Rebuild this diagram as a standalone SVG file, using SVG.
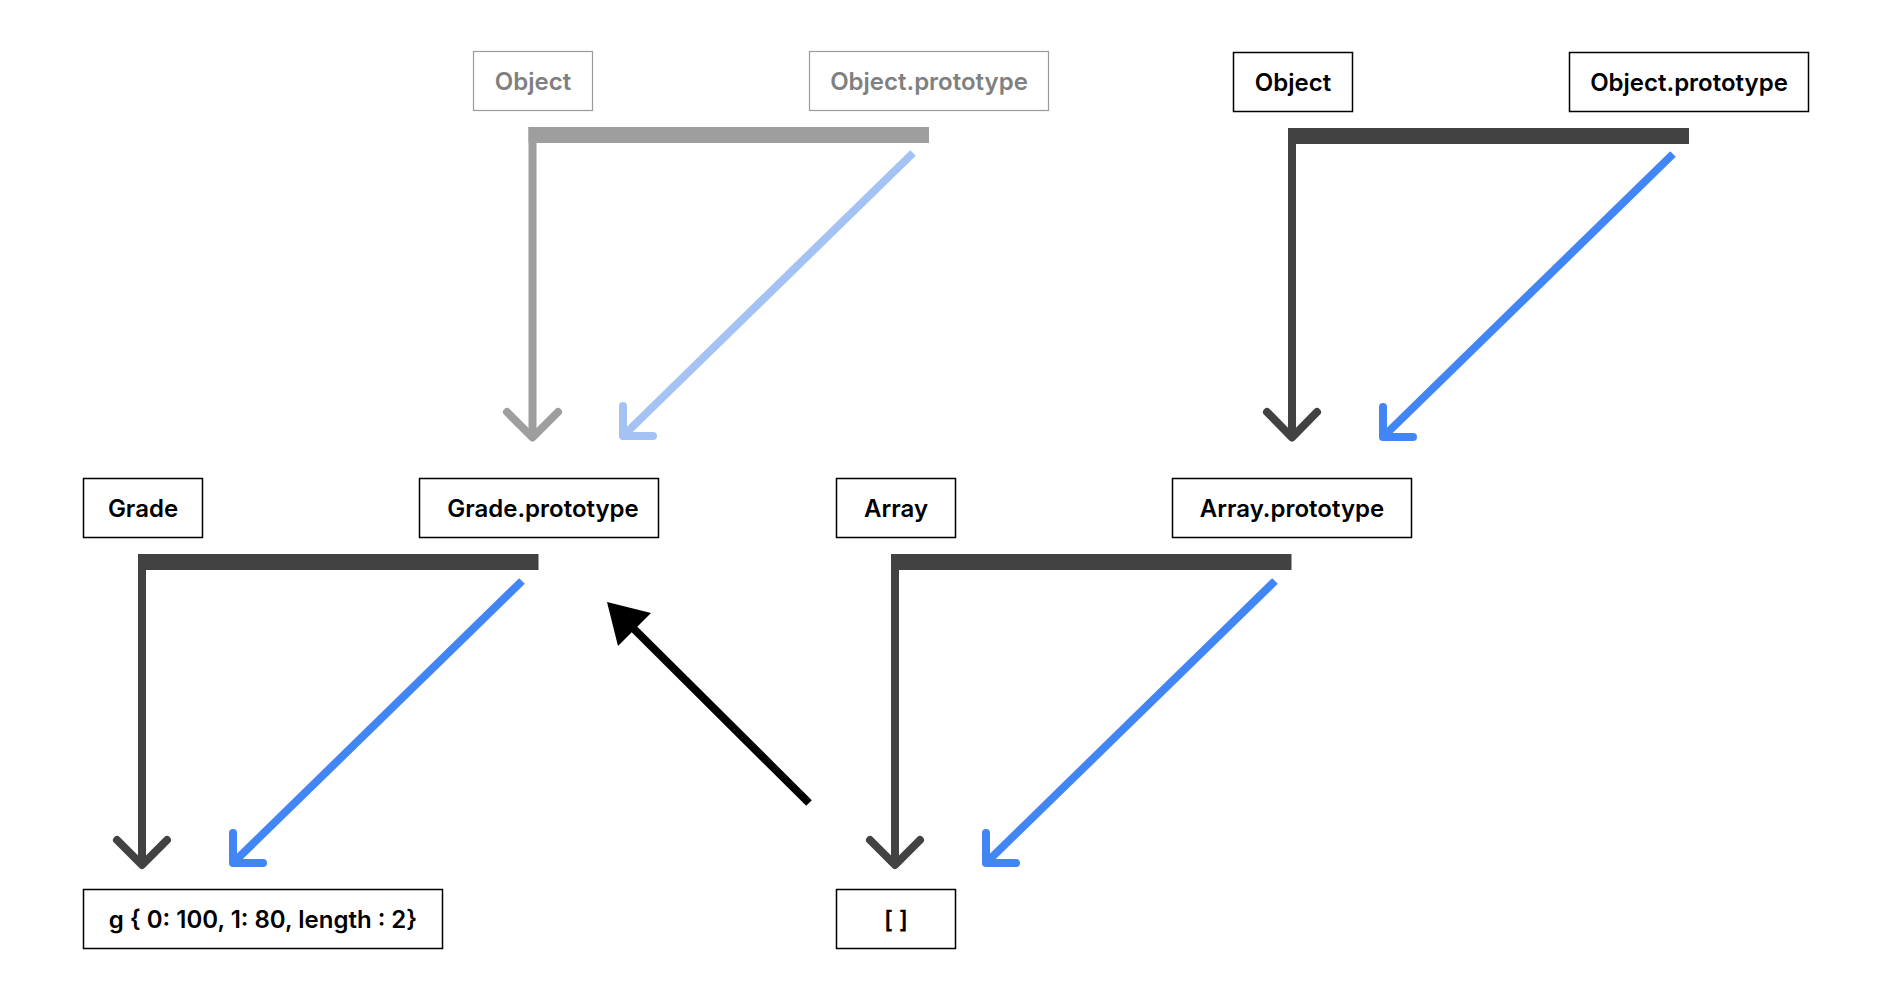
<svg xmlns="http://www.w3.org/2000/svg" width="1891" height="1000" viewBox="0 0 1891 1000">
<style>
.box{fill:#fff;stroke:#000;stroke-width:1.5}
.gbox{fill:#fff;stroke:#9a9a9a;stroke-width:1.2}
.t{font-family:Inter,"Liberation Sans",sans-serif;font-weight:600;font-size:24px;fill:#000;text-anchor:middle;dominant-baseline:central}
.gt{font-family:Inter,"Liberation Sans",sans-serif;font-weight:600;font-size:24px;fill:#808080;text-anchor:middle;dominant-baseline:central}
.head{fill:none;stroke-width:8;stroke-linecap:round;stroke-linejoin:round}
.ln{fill:none;stroke-width:8}
.dark{stroke:#424242}
.darkf{fill:#424242}
.grey{stroke:#9e9e9e}
.greyf{fill:#9e9e9e}
.blue{stroke:#4285f4}
.lblue{stroke:#a4c2f4}
</style>
<rect width="1891" height="1000" fill="#fff"/>
<g id="connectors">
  <!-- grey top group -->
  <rect class="greyf" x="528.5" y="127" width="400.5" height="16"/>
  <line class="ln grey" x1="532.5" y1="127" x2="532.5" y2="437"/>
  <polyline class="head grey" points="507,412 532.5,437.5 558,412"/>
  <line class="ln lblue" x1="913" y1="153" x2="623" y2="436"/>
  <polyline class="head lblue" points="623,406 623,436 653,436"/>
  <!-- dark top group -->
  <rect class="darkf" x="1288" y="128" width="401" height="16"/>
  <line class="ln dark" x1="1292" y1="128" x2="1292" y2="437"/>
  <polyline class="head dark" points="1267,412 1292,437.5 1317,412"/>
  <line class="ln blue" x1="1673" y1="154" x2="1383" y2="437"/>
  <polyline class="head blue" points="1383,407 1383,437 1413,437"/>
  <!-- grade group -->
  <rect class="darkf" x="138" y="554" width="400.5" height="16"/>
  <line class="ln dark" x1="142" y1="554" x2="142" y2="865"/>
  <polyline class="head dark" points="117,840 142,865 167,840"/>
  <line class="ln blue" x1="522" y1="581" x2="233" y2="863"/>
  <polyline class="head blue" points="233,833 233,863 263,863"/>
  <!-- array group -->
  <rect class="darkf" x="891" y="554" width="400.5" height="16"/>
  <line class="ln dark" x1="895" y1="554" x2="895" y2="865"/>
  <polyline class="head dark" points="870,840 895,865 920,840"/>
  <line class="ln blue" x1="1275" y1="581" x2="986" y2="863"/>
  <polyline class="head blue" points="986,833 986,863 1016,863"/>
  <!-- black arrow -->
  <line x1="809" y1="803" x2="628" y2="623" stroke="#000" stroke-width="8"/>
  <polygon points="607,602 651,613 618,646" fill="#000"/>
</g>
<g id="node-object-grey"><rect class="gbox" x="473.5" y="51.5" width="119" height="59"/><text class="gt" x="533" y="81">Object</text></g>
<g id="node-objproto-grey"><rect class="gbox" x="809.5" y="51.5" width="239" height="59"/><text class="gt" x="929" y="81">Object.prototype</text></g>
<g id="node-object"><rect class="box" x="1233.5" y="52.5" width="119" height="59"/><text class="t" x="1293" y="82">Object</text></g>
<g id="node-objproto"><rect class="box" x="1569.5" y="52.5" width="239" height="59"/><text class="t" x="1689" y="82">Object.prototype</text></g>
<g id="node-grade"><rect class="box" x="83.5" y="478.5" width="119" height="59"/><text class="t" x="143" y="508">Grade</text></g>
<g id="node-gradeproto"><rect class="box" x="419.5" y="478.5" width="239" height="59"/><text class="t" x="543" y="508">Grade.prototype</text></g>
<g id="node-array"><rect class="box" x="836.5" y="478.5" width="119" height="59"/><text class="t" x="896" y="508">Array</text></g>
<g id="node-arrayproto"><rect class="box" x="1172.5" y="478.5" width="239" height="59"/><text class="t" x="1292" y="508">Array.prototype</text></g>
<g id="node-g"><rect class="box" x="83.5" y="889.5" width="359" height="59"/><text class="t" x="263" y="919">g { 0: 100, 1: 80, length : 2}</text></g>
<g id="node-arr"><rect class="box" x="836.5" y="889.5" width="119" height="59"/><text class="t" x="896" y="919">[ ]</text></g>
</svg>
